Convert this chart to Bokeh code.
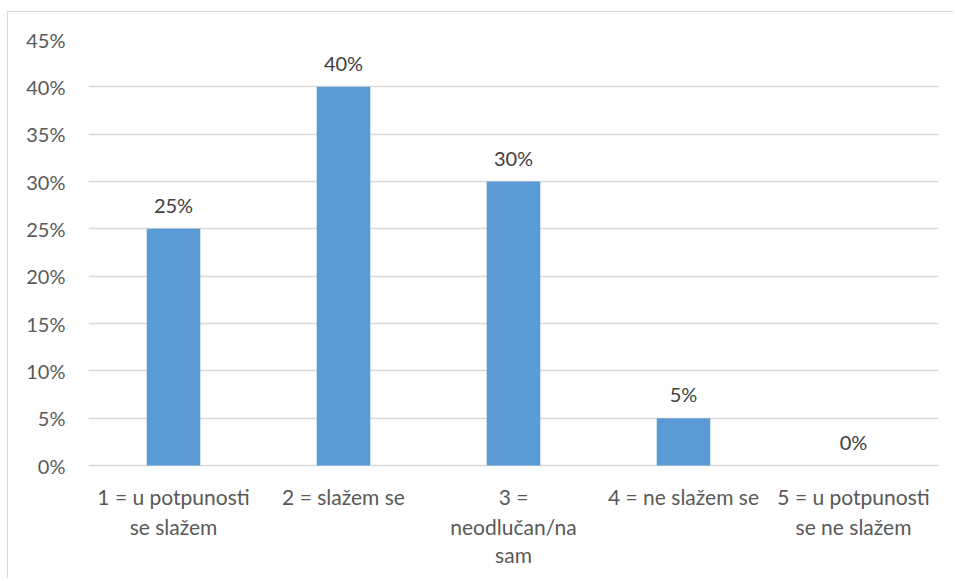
from bokeh.plotting import figure
from bokeh.models import ColumnDataSource, NumeralTickFormatter, FixedTicker, Range1d
from bokeh.core.properties import value
from bokeh.embed import file_html
from bokeh.resources import INLINE

categories = ["1", "2", "3", "4", "5"]
cat_line1 = ["1 = u potpunosti", "2 = slažem se", "3 =", "4 = ne slažem se", "5 = u potpunosti"]
cat_line2 = ["se slažem", "", "neodlučan/na", "", "se ne slažem"]
cat_line3 = ["", "", "sam", "", ""]
values = [0.25, 0.40, 0.30, 0.05, 0.0]
value_labels = ["25%", "40%", "30%", "5%", "0%"]
y_ticks = [0, 0.05, 0.10, 0.15, 0.20, 0.25, 0.30, 0.35, 0.40, 0.45]

FONT = "Lato"
src = ColumnDataSource(dict(cat=categories, val=values, vlab=value_labels,
                            l1=cat_line1, l2=cat_line2, l3=cat_line3,
                            zero=[0] * len(categories)))

# frame extends below 0 so that the category labels (drawn as text) are not clipped
Y_MAX = 0.45
Y_MIN = -Y_MAX * 108 / 426

p = figure(x_range=categories, y_range=Range1d(Y_MIN, Y_MAX), width=946, height=567,
           output_backend="svg", toolbar_location=None,
           min_border_left=80, min_border_right=16, min_border_top=27, min_border_bottom=6)
p.styles = {"border-top": "1px solid #d9d9d9", "border-left": "1px solid #d9d9d9",
            "margin-left": "7px", "margin-top": "11px"}
p.outline_line_color = None
p.background_fill_color = "white"

p.vbar(x="cat", top="val", width=0.315, source=src, color="#5B9BD5", line_color=None)

p.text(x="cat", y="val", text="vlab", source=src, y_offset=-24,
       text_align="center", text_baseline="middle", text_font=value(FONT),
       text_font_size="20px", text_color="#404040")

for col, off in (("l1", 31), ("l2", 61), ("l3", 89)):
    p.text(x="cat", y="zero", text=col, source=src, y_offset=off,
           text_align="center", text_baseline="middle", text_font=value(FONT),
           text_font_size="21px", text_color="#595959")

p.xaxis.visible = False
p.xgrid.visible = False
p.ygrid.grid_line_color = "#d9d9d9"
p.ygrid.grid_line_width = 1.5

ya = p.yaxis[0]
ya.ticker = FixedTicker(ticks=y_ticks)
ya.formatter = NumeralTickFormatter(format="0%")
ya.axis_line_color = None
ya.major_tick_line_color = None
ya.minor_tick_line_color = None
ya.major_tick_out = 0
ya.major_label_standoff = 23
ya.major_label_text_font = FONT
ya.major_label_text_font_size = "20px"
ya.major_label_text_color = "#595959"

open("out.html", "w").write(file_html(p, INLINE))
